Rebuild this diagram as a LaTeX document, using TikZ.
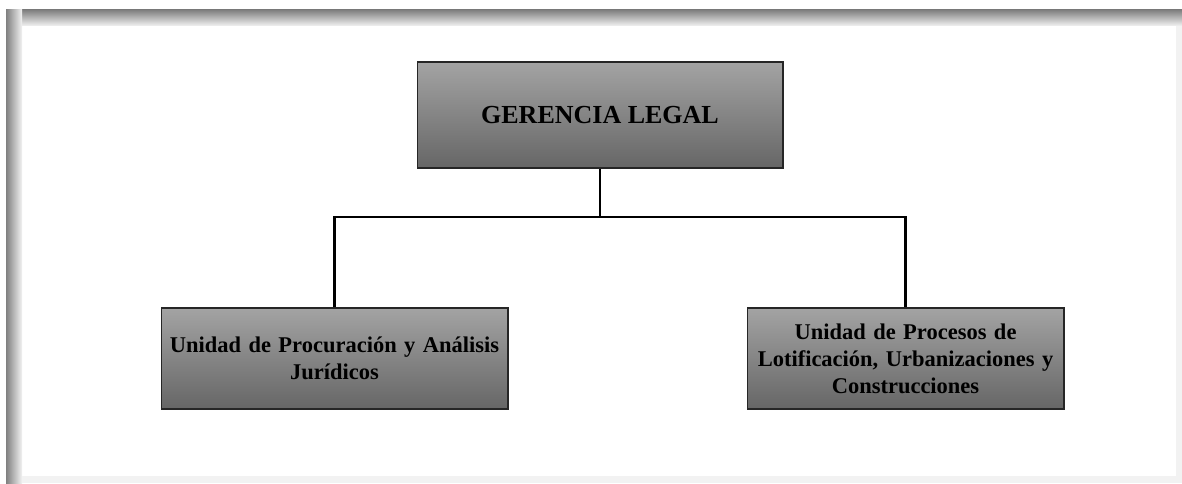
\documentclass[tikz,border=0pt]{standalone}
\usepackage{fontspec}
\setmainfont{Liberation Serif}
\tikzset{
  unitbox/.style={draw=black!85, line width=0.6pt, top color=black!36, bottom color=black!60,
    align=center, inner sep=0pt, font=\bfseries\fontsize{12.8}{15.3}\selectfont},
  orgline/.style={line width=1.3pt, black},
}

\begin{document}
\begin{tikzpicture}[x=0.02cm, y=-0.02cm]
\useasboundingbox (0,0) rectangle (1182,483);
% frame with shadow
\fill[white] (0,0) rectangle (1182,483);
\fill[black!5] (6,10) rectangle (1182,483);
\fill[white] (22,26) rectangle (1176,476);
\shade[top color=black!50, bottom color=black!5] (6,10) rectangle (1182,26);
\shade[left color=black!50, right color=black!5] (6,10) rectangle (22,483);

\node[unitbox, minimum width=7.32cm, minimum height=2.12cm, font=\bfseries\fontsize{14.8}{17}\selectfont] (gerencia) at (600,115) {GERENCIA LEGAL};
\node[unitbox, minimum width=6.94cm, minimum height=2.02cm, text width=6.9cm] (procura) at (334.5,358.5) {Unidad de Procuración y Análisis\\Jurídicos};
\node[unitbox, minimum width=6.34cm, minimum height=2.02cm, text width=6.3cm] (lotifica) at (905.5,358.5) {Unidad de Procesos de\\Lotificación, Urbanizaciones y\\Construcciones};

\coordinate (bus) at (600,217);
\draw[orgline] (gerencia.south) -- (bus);
\draw[orgline] (procura.north) |- (bus) -| (lotifica.north);
\end{tikzpicture}
\end{document}
